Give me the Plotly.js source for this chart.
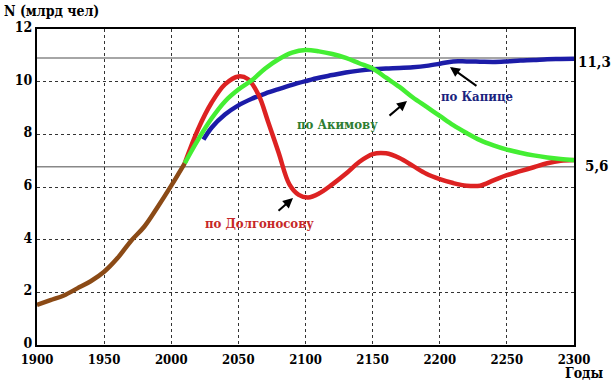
<!DOCTYPE html>
<html><head><meta charset="utf-8">
<script src="https://cdn.plot.ly/plotly-3.0.1.min.js"></script>
<style>html,body{margin:0;padding:0;background:#fff}#chart{width:611px;height:382px}</style>
</head><body><div id="chart"></div>
<script>
const histYears = [1900,1910,1920,1930,1940,1950,1960,1970,1980,1990,2000,2010];
const histVals  = [1.52,1.7,1.88,2.15,2.42,2.78,3.3,3.95,4.5,5.25,6.05,6.9];

const dolgYears = [2010,2020,2030,2040,2050,2057,2065,2072,2080,2088,2095,2102,2110,2120,2130,2140,2150,2160,2170,2180,2190,2200,2210,2220,2230,2240,2250,2260,2270,2280,2290,2300];
const dolgVals  = [6.9,8.2,9.2,9.9,10.2,10.1,9.5,8.5,7.3,6.1,5.7,5.6,5.75,6.1,6.5,6.95,7.25,7.28,7.1,6.8,6.5,6.3,6.15,6.05,6.05,6.25,6.45,6.6,6.75,6.9,7.0,7.03];

const akimYears = [2010,2020,2030,2040,2050,2060,2070,2080,2090,2100,2110,2120,2130,2140,2150,2160,2170,2180,2190,2200,2210,2220,2230,2240,2250,2260,2270,2280,2290,2300];
const akimVals  = [6.9,7.8,8.6,9.25,9.7,10.05,10.5,10.85,11.1,11.2,11.15,11.05,10.9,10.7,10.5,10.15,9.8,9.4,9.05,8.7,8.35,8.05,7.78,7.58,7.42,7.3,7.2,7.12,7.06,7.02];

const kapYears = [2024,2030,2040,2050,2060,2070,2080,2090,2100,2110,2120,2130,2140,2150,2160,2170,2180,2190,2200,2210,2220,2230,2240,2250,2260,2270,2280,2290,2300];
const kapVals  = [7.8,8.25,8.75,9.1,9.35,9.55,9.72,9.88,10.02,10.15,10.25,10.35,10.42,10.47,10.5,10.52,10.55,10.6,10.68,10.77,10.77,10.76,10.75,10.77,10.8,10.82,10.85,10.86,10.87];

const refLevels = [10.9, 6.77];
const xTicks = [1900,1950,2000,2050,2100,2150,2200,2250,2300];
const yTicks = [0,2,4,6,8,10,12];

const serif = "DejaVu Serif Condensed, DejaVu Serif";

const traces = [
  {x: kapYears, y: kapVals, mode:'lines', line:{color:'#1c1ca8', width:4.5, shape:'spline'}},
  {x: dolgYears, y: dolgVals, mode:'lines', line:{color:'#dd2222', width:4.5, shape:'spline'}},
  {x: akimYears, y: akimVals, mode:'lines', line:{color:'#44ee33', width:4.5, shape:'spline'}},
  {x: histYears, y: histVals, mode:'lines', line:{color:'#8b4a16', width:4.5, shape:'spline'}}
];

const shapes = refLevels.map(v => ({type:'line', xref:'paper', x0:0, x1:1, yref:'y', y0:v, y1:v, line:{color:'#888', width:1.5}, layer:'below'}));

const arrowCommon = {showarrow:true, arrowhead:2, arrowsize:1, arrowwidth:2, arrowcolor:'#000', text:'', axref:'pixel', ayref:'pixel'};
const annotations = [
  Object.assign({x:2207.6, y:10.56, ax:28, ay:20}, arrowCommon),
  Object.assign({x:2175.6, y:9.27, ax:-19, ay:16}, arrowCommon),
  Object.assign({x:2090.7, y:5.58, ax:-16, ay:14}, arrowCommon),
  {x:2227.7, y:9.42, text:'<b>по Капице</b>', showarrow:false, font:{family:serif, size:13, color:'#1a237e'}},
  {x:2124.2, y:8.36, text:'<b>по Акимову</b>', showarrow:false, font:{family:serif, size:13, color:'#2e7d32'}},
  {x:2065.4, y:4.63, text:'<b>по Долгоносову</b>', showarrow:false, font:{family:serif, size:13, color:'#c62828'}},
  {xref:'paper', x:1, xanchor:'left', xshift:2, y:10.75, text:'<b>11,3</b>', showarrow:false, font:{family:serif, size:15, color:'#000'}},
  {xref:'paper', x:1, xanchor:'left', xshift:9, y:6.8, text:'<b>5,6</b>', showarrow:false, font:{family:serif, size:15, color:'#000'}},
  {xref:'paper', yref:'paper', x:0, y:1, xanchor:'left', yanchor:'bottom', xshift:-34, yshift:9, borderpad:0, text:'<b>N (млрд чел)</b>', showarrow:false, font:{family:serif, size:14, color:'#000'}},
  {xref:'paper', yref:'paper', x:1, y:0, xanchor:'left', yanchor:'bottom', xshift:-10, yshift:-37, borderpad:0, text:'<b>Годы</b>', showarrow:false, font:{family:serif, size:14, color:'#000'}}
];

const layout = {
  width:611, height:382,
  margin:{l:37, r:37, t:29, b:37},
  paper_bgcolor:'#fff', plot_bgcolor:'#fff',
  showlegend:false,
  xaxis:{range:[1900,2300], tickvals:xTicks, ticktext:xTicks.map(v => '<b>'+v+'</b>'), showgrid:true, gridcolor:'#333', griddash:'dot', gridwidth:1,
         showline:true, linecolor:'#000', linewidth:2, mirror:true, ticks:'', zeroline:false, ticklabelstandoff:1,
         tickfont:{family:serif, size:13, color:'#000'}},
  yaxis:{range:[0,12], tickvals:yTicks, ticktext:yTicks.map(v => '<b>'+v+'</b>'), showgrid:true, gridcolor:'#333', griddash:'dot', gridwidth:1,
         showline:true, linecolor:'#000', linewidth:2, mirror:true, ticks:'', zeroline:false, ticklabelshift:-2,
         tickfont:{family:serif, size:14, color:'#000'}},
  shapes: shapes,
  annotations: annotations
};

Plotly.newPlot('chart', traces, layout, {displayModeBar:false, staticPlot:true});
</script></body></html>
